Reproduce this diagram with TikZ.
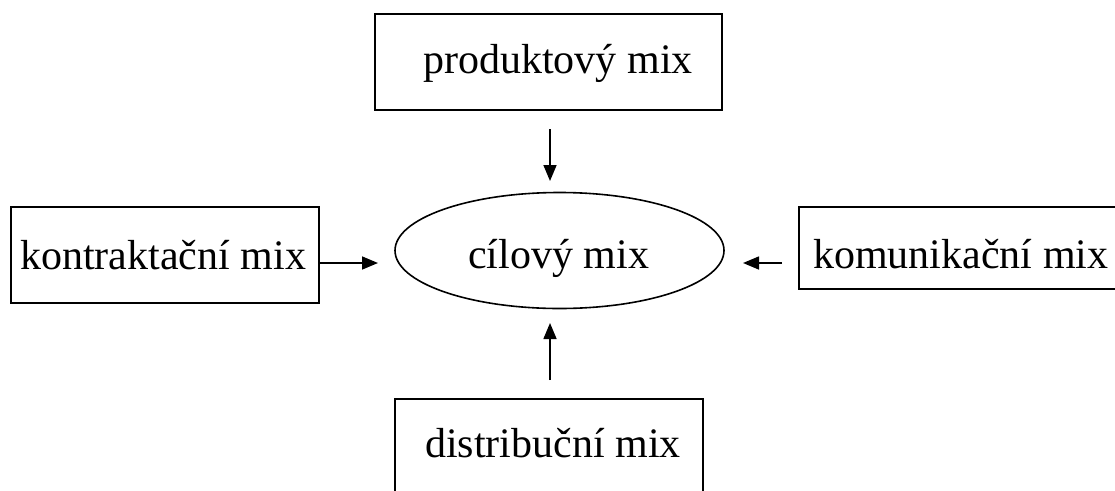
\documentclass[tikz,border=0pt]{standalone}
\usepackage{fontspec}
\setmainfont{Liberation Serif}
\usetikzlibrary{arrows.meta}
\begin{document}
\begin{tikzpicture}[x=1pt,y=-1pt,
  boxstyle/.style={draw=black,line width=2pt,inner sep=0pt},
  lbl/.style={anchor=base west,inner sep=0pt,font=\fontsize{42}{50}\selectfont},
  conn/.style={line width=1.6pt,-{Triangle[length=16pt,width=13pt]}}]
\useasboundingbox (0,0) rectangle (1115,490);
\clip (0,0) rectangle (1115,490);
\fill[white] (0,0) rectangle (1115,490);
% boxes
\node[boxstyle,minimum width=347pt,minimum height=96pt] (prod) at (548.5,62) {};
\node[boxstyle,minimum width=308pt,minimum height=96pt] (kont) at (165,255) {};
\node[boxstyle,minimum width=331pt,minimum height=82pt] (komu) at (964.5,248) {};
\node[boxstyle,minimum width=308pt,minimum height=110pt] (dist) at (549,454) {};
\draw[line width=1.6pt] (559.5,250.5) ellipse [x radius=164.5pt, y radius=58pt];
\coordinate (cil) at (559.5,250.5);
% labels
\node[lbl] (tprod) at (423,73) {produktový mix};
\node[lbl] (tkont) at (20,269) {kontraktační mix};
\node[lbl] (tkomu) at (813,268) {komunikační mix};
\node[lbl] (tdist) at (425,457) {distribuční mix};
\node[lbl] (tcil) at (468,268) {cílový mix};
% arrow end points
\coordinate (a1s) at (550,129);
\coordinate (a1e) at (550,181);
\coordinate (a2s) at (320,263);
\coordinate (a2e) at (378,263);
\coordinate (a3s) at (782,263);
\coordinate (a3e) at (743,263);
\coordinate (a4s) at (550,380);
\coordinate (a4e) at (550,323);
\draw[conn] (a1s) -- (a1e);
\draw[conn] (a2s) -- (a2e);
\draw[conn] (a3s) -- (a3e);
\draw[conn] (a4s) -- (a4e);
\end{tikzpicture}
\end{document}
